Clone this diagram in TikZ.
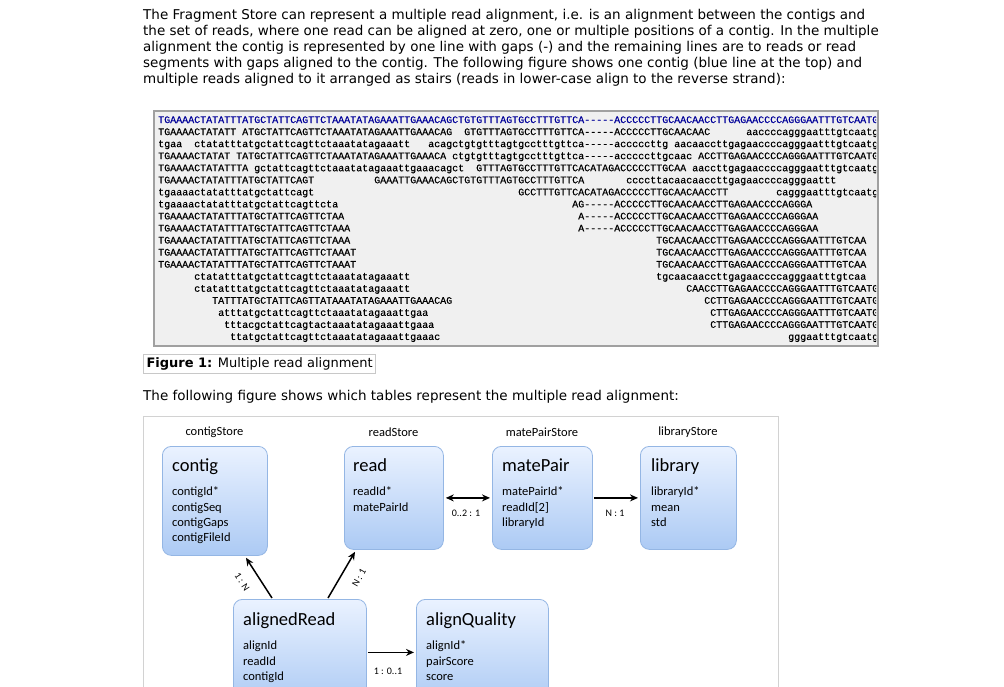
\documentclass[tikz,border=0pt]{standalone}
\usepackage{fontspec}
\setmainfont{DejaVu Sans}
\setmonofont[FakeBold=0.6]{Liberation Mono}
\newfontfamily\calfont{Carlito}
\usetikzlibrary{arrows.meta,calc}
\definecolor{seqblue}{RGB}{0,0,153}
\definecolor{seqbg}{RGB}{240,240,240}
\definecolor{seqframe}{RGB}{160,160,160}
\definecolor{boxtop}{RGB}{234,242,255}
\definecolor{boxbot}{RGB}{172,202,244}
\definecolor{boxline}{RGB}{148,182,228}
\definecolor{capframe}{RGB}{200,200,200}
\definecolor{figframe}{RGB}{210,210,210}
\newdimen\cw \cw=6pt
\newcommand\g[1]{\kern#1\cw}
\newcommand\sqrow[3]{\node[seqrow] (#1) at (158,{123+12.05*(#2-1)}) {#3};}
\begin{document}
\begin{tikzpicture}[x=1pt,y=-1pt,
  para/.style={anchor=base west,inner sep=0pt,font=\fontsize{13.5}{16}\selectfont},
  seqrow/.style={anchor=base west,inner sep=0pt,font=\ttfamily\fontsize{10}{12}\selectfont},
  tbl/.style={draw=boxline,line width=0.8pt,rounded corners=9pt,top color=boxtop,bottom color=boxbot,inner sep=0pt,anchor=north west},
  ttl/.style={anchor=base west,inner sep=0pt,font=\calfont\fontsize{18.5}{20}\selectfont},
  fld/.style={anchor=base west,inner sep=0pt,font=\calfont\fontsize{12.5}{14}\selectfont},
  store/.style={inner sep=0pt,font=\calfont\fontsize{12.5}{14}\selectfont},
  rel/.style={inner sep=0pt,font=\calfont\fontsize{10}{12}\selectfont},
  arr/.style={line width=1.5pt,-{Stealth[length=8pt,width=7pt]}},
  darr/.style={line width=1.5pt,{Stealth[length=8pt,width=7pt]}-{Stealth[length=8pt,width=7pt]}}]
\useasboundingbox (0,0) rectangle (1004,686);
\fill[white] (0,0) rectangle (1004,686);

% paragraph
\node[para] (p1) at (143,19.5) {The Fragment Store can represent a multiple read alignment, i.e. is an alignment between the contigs and};
\node[para] (p2) at (143,35.5) {the set of reads, where one read can be aligned at zero, one or multiple positions of a contig. In the multiple};
\node[para] (p3) at (143,51.5) {alignment the contig is represented by one line with gaps (-) and the remaining lines are to reads or read};
\node[para] (p4) at (143,67.5) {segments with gaps aligned to the contig. The following figure shows one contig (blue line at the top) and};
\node[para] (p5) at (143,83.5) {multiple reads aligned to it arranged as stairs (reads in lower-case align to the reverse strand):};

% alignment box
\node[draw=seqframe,fill=seqbg,line width=1.5pt,minimum width=724pt,minimum height=235pt,anchor=north west,inner sep=0pt] (alnbox) at (153,110) {};
\begin{scope}
\clip (154,111) rectangle (876,344);
\sqrow{r1}{1}{\color{seqblue}TGAAAACTATATTTATGCTATTCAGTTCTAAATATAGAAATTGAAACAGCTGTGTTTAGTGCCTTTGTTCA-----ACCCCCTTGCAACAACCTTGAGAACCCCAGGGAATTTGTCAATG}
\sqrow{r2}{2}{TGAAAACTATATT\g1ATGCTATTCAGTTCTAAATATAGAAATTGAAACAG\g2GTGTTTAGTGCCTTTGTTCA-----ACCCCCTTGCAACAAC\g6aaccccagggaatttgtcaatg}
\sqrow{r3}{3}{tgaa\g2ctatatttatgctattcagttctaaatatagaaatt\g3acagctgtgtttagtgcctttgttca-----acccccttg\g1aacaaccttgagaaccccagggaatttgtcaatg}
\sqrow{r4}{4}{TGAAAACTATAT\g1TATGCTATTCAGTTCTAAATATAGAAATTGAAACA\g1ctgtgtttagtgcctttgttca-----acccccttgcaac\g1ACCTTGAGAACCCCAGGGAATTTGTCAATG}
\sqrow{r5}{5}{TGAAAACTATATTTA\g1gctattcagttctaaatatagaaattgaaacagct\g2GTTTAGTGCCTTTGTTCACATAGACCCCCTTGCAA\g1aaccttgagaaccccagggaatttgtcaatg}
\sqrow{r6}{6}{TGAAAACTATATTTATGCTATTCAGT\g{10}GAAATTGAAACAGCTGTGTTTAGTGCCTTTGTTCA\g7ccccttacaacaaccttgagaaccccagggaattt}
\sqrow{r7}{7}{tgaaaactatatttatgctattcagt\g{34}GCCTTTGTTCACATAGACCCCCTTGCAACAACCTT\g8cagggaatttgtcaatg}
\sqrow{r8}{8}{tgaaaactatatttatgctattcagttcta\g{39}AG-----ACCCCCTTGCAACAACCTTGAGAACCCCAGGGA}
\sqrow{r9}{9}{TGAAAACTATATTTATGCTATTCAGTTCTAA\g{39}A-----ACCCCCTTGCAACAACCTTGAGAACCCCAGGGAA}
\sqrow{r10}{10}{TGAAAACTATATTTATGCTATTCAGTTCTAAA\g{38}A-----ACCCCCTTGCAACAACCTTGAGAACCCCAGGGAA}
\sqrow{r11}{11}{TGAAAACTATATTTATGCTATTCAGTTCTAAA\g{51}TGCAACAACCTTGAGAACCCCAGGGAATTTGTCAA}
\sqrow{r12}{12}{TGAAAACTATATTTATGCTATTCAGTTCTAAAT\g{50}TGCAACAACCTTGAGAACCCCAGGGAATTTGTCAA}
\sqrow{r13}{13}{TGAAAACTATATTTATGCTATTCAGTTCTAAAT\g{50}TGCAACAACCTTGAGAACCCCAGGGAATTTGTCAA}
\sqrow{r14}{14}{\g6ctatatttatgctattcagttctaaatatagaaatt\g{41}tgcaacaaccttgagaaccccagggaatttgtcaa}
\sqrow{r15}{15}{\g6ctatatttatgctattcagttctaaatatagaaatt\g{46}CAACCTTGAGAACCCCAGGGAATTTGTCAATG}
\sqrow{r16}{16}{\g9TATTTATGCTATTCAGTTATAAATATAGAAATTGAAACAG\g{42}CCTTGAGAACCCCAGGGAATTTGTCAATG}
\sqrow{r17}{17}{\g{10}atttatgctattcagttctaaatatagaaattgaa\g{47}CTTGAGAACCCCAGGGAATTTGTCAATG}
\sqrow{r18}{18}{\g{11}tttacgctattcagtactaaatatagaaattgaaa\g{46}CTTGAGAACCCCAGGGAATTTGTCAATG}
\sqrow{r19}{19}{\g{12}ttatgctattcagttctaaatatagaaattgaaac\g{58}gggaatttgtcaatg}
\end{scope}

% caption
\node[draw=capframe,line width=1pt,inner xsep=3pt,inner ysep=3pt,anchor=north west,font=\fontsize{13}{16}\selectfont] (cap) at (143,354) {\textbf{Figure 1:} Multiple read alignment};
\node[para] (p6) at (143,400) {The following figure shows which tables represent the multiple read alignment:};

% diagram frame
\node[draw=figframe,line width=1pt,minimum width=635pt,minimum height=300pt,anchor=north west,inner sep=0pt] (frame) at (143,416) {};

% store labels
\node[store] (s1) at (214.5,432) {contigStore};
\node[store] (s2) at (393.5,432) {readStore};
\node[store] (s3) at (542,432) {matePairStore};
\node[store] (s4) at (688,432) {libraryStore};

% tables
\node[tbl,minimum width=105pt,minimum height=109pt] (contig) at (162,446) {};
\node[tbl,minimum width=99pt,minimum height=103pt] (read) at (344,446) {};
\node[tbl,minimum width=100pt,minimum height=103pt] (matePair) at (492,446) {};
\node[tbl,minimum width=96pt,minimum height=103pt] (library) at (640,446) {};
\node[tbl,minimum width=133pt,minimum height=106pt] (aligned) at (233,599) {};
\node[tbl,minimum width=132pt,minimum height=106pt] (quality) at (416,599) {};

\node[ttl] (contigT) at ($(contig.north west)+(10,25)$) {contig};
\foreach \t [count=\i] in {{contigId*},{contigSeq},{contigGaps},{contigFileId}}
  \node[fld] (contigF\i) at ($(contig.north west)+(10,34.5+15.3*\i)$) {\t};
\node[ttl] (readT) at ($(read.north west)+(9,25)$) {read};
\foreach \t [count=\i] in {{readId*},{matePairId}}
  \node[fld] (readF\i) at ($(read.north west)+(9,34.5+15.3*\i)$) {\t};
\node[ttl] (matePairT) at ($(matePair.north west)+(10,25)$) {matePair};
\foreach \t [count=\i] in {{matePairId*},{readId[2]},{libraryId}}
  \node[fld] (matePairF\i) at ($(matePair.north west)+(10,34.5+15.3*\i)$) {\t};
\node[ttl] (libraryT) at ($(library.north west)+(11,25)$) {library};
\foreach \t [count=\i] in {{libraryId*},{mean},{std}}
  \node[fld] (libraryF\i) at ($(library.north west)+(11,34.5+15.3*\i)$) {\t};
\node[ttl] (alignedT) at ($(aligned.north west)+(10,26)$) {alignedRead};
\foreach \t [count=\i] in {{alignId},{readId},{contigId}}
  \node[fld] (alignedF\i) at ($(aligned.north west)+(10,34.5+15.8*\i)$) {\t};
\node[ttl] (qualityT) at ($(quality.north west)+(10,26)$) {alignQuality};
\foreach \t [count=\i] in {{alignId*},{pairScore},{score}}
  \node[fld] (qualityF\i) at ($(quality.north west)+(10,34.5+15.8*\i)$) {\t};

% connectors
\draw[darr] ([xshift=2pt]read.east) -- ([xshift=-2pt]matePair.west);
\node[rel] (l1) at (466,513) {0..2 : 1};
\draw[arr] ([xshift=1pt]matePair.east) -- ([xshift=-2pt]library.west);
\node[rel] (l2) at (615,513) {N : 1};
\draw[arr] ($(aligned.north west)+(39,-1)$) -- ($(contig.south west)+(84,2)$);
\node[rel,rotate=-57] (l3) at (242,582) {1 : N};
\draw[arr] ($(aligned.north west)+(95,-1)$) -- ($(read.south west)+(11,2)$);
\node[rel,rotate=60] (l4) at (359,578) {N : 1};
\draw[arr] ([xshift=1pt]aligned.east) -- ([xshift=-2pt]quality.west);
\node[rel] (l5) at (388,671) {1 : 0..1};
\end{tikzpicture}
\end{document}
